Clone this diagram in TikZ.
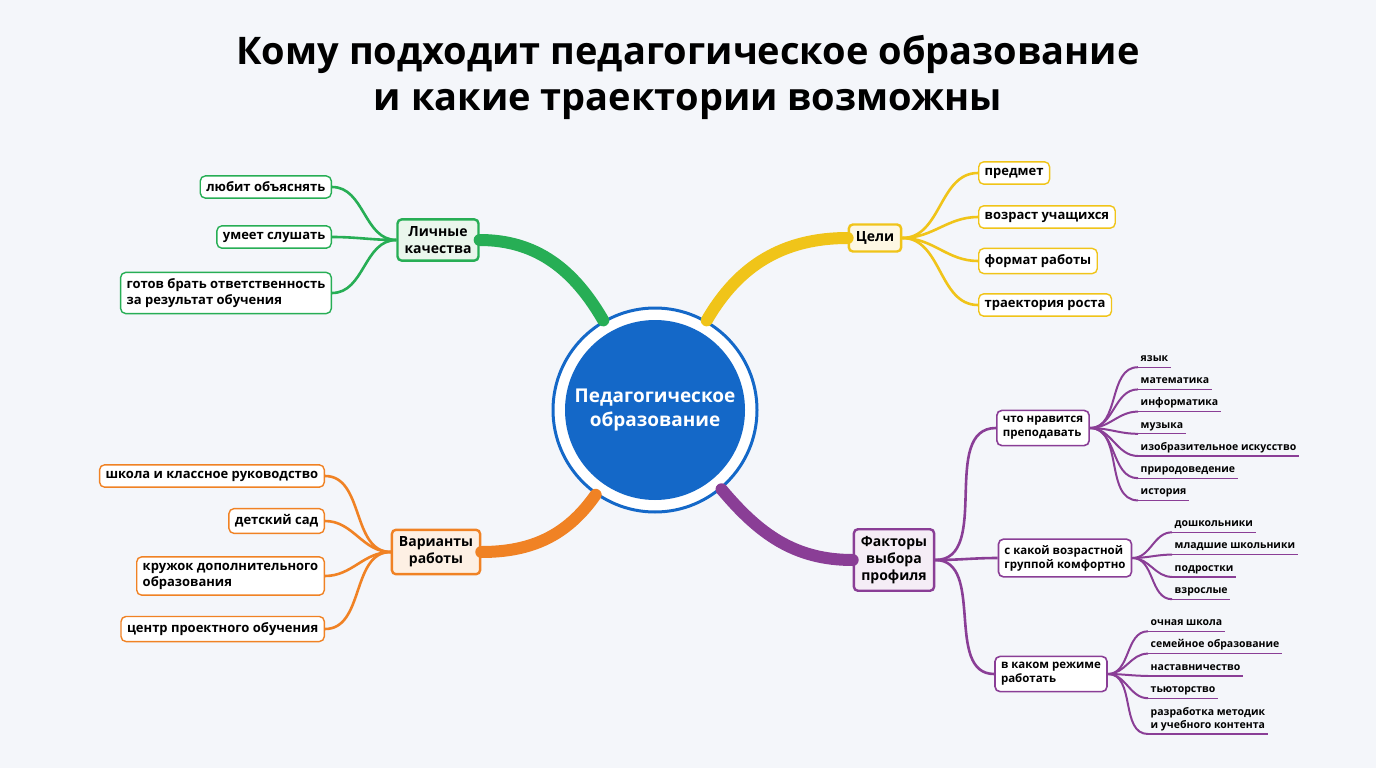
\documentclass[tikz,border=0pt]{standalone}
\usepackage{fontspec}
\setmainfont{Open Sans}
\usetikzlibrary{positioning,calc}
\definecolor{bgc}{HTML}{F4F6FA}
\definecolor{grn}{HTML}{27AE55}
\definecolor{grnl}{HTML}{EAF6EC}
\definecolor{ylw}{HTML}{F0C419}
\definecolor{ylwl}{HTML}{FDF7E3}
\definecolor{org}{HTML}{F08224}
\definecolor{orgl}{HTML}{FDF0E4}
\definecolor{prp}{HTML}{8A3E96}
\definecolor{prpl}{HTML}{F5EDF6}
\definecolor{blu}{HTML}{1468C8}
\begin{document}
\begin{tikzpicture}[x=1pt,y=-1pt,
    hub/.style={rectangle, rounded corners=4pt, line width=2.4pt, align=center, font=\fontsize{14}{17}\selectfont\bfseries, inner sep=7pt},
    leafbox/.style={rectangle, rounded corners=5pt, line width=1.4pt, fill=white, align=left, font=\fontsize{13}{16}\selectfont\bfseries, inner sep=6pt},
    subbox/.style={rectangle, rounded corners=5pt, line width=1.6pt, draw=prp, fill=white, align=left, font=\fontsize{11.5}{14}\selectfont\bfseries, inner sep=6pt},
    twig/.style={anchor=south west, inner sep=2.5pt, font=\fontsize{10.5}{12.5}\selectfont\bfseries, align=left, text depth=3pt},
    branch/.style={line width=12pt, line cap=round},
    link/.style={line width=2.6pt}
  ]
  \fill[bgc] (0,0) rectangle (1376,768);
  \node[font=\fontsize{38}{46}\selectfont\bfseries, align=center] (title) at (688,77)
    {Кому подходит педагогическое образование\\и какие траектории возможны};

  % centre
  \node[circle, draw=blu, line width=3pt, fill=white, minimum size=204pt] (core) at (655,410) {};
  \node[circle, fill=blu, minimum size=180pt, text=white, align=center,
        font=\fontsize{19}{24}\selectfont\bfseries] (coretxt) at (core) {Педагогическое\\образование};

  % green
  \node[hub, draw=grn, fill=grnl] (lichn) at (438,240) {Личные\\качества};
  \node[leafbox, draw=grn, anchor=east] (g1) at (332,187) {любит объяснять};
  \node[leafbox, draw=grn, anchor=east] (g2) at (332,237) {умеет слушать};
  \node[leafbox, draw=grn, anchor=east] (g3) at (332,293) {готов брать ответственность\\за результат обучения};
  \draw[branch, grn] (core.120) to[out=120,in=0] (lichn.east);
  \foreach \n in {g1,g2,g3}
    \draw[link, grn] (\n.east) to[out=0,in=180] (lichn.west);

  % yellow
  \node[hub, draw=ylw, fill=ylwl] (celi) at (875,238) {Цели};
  \node[leafbox, draw=ylw, anchor=west] (y1) at (978,173) {предмет};
  \node[leafbox, draw=ylw, anchor=west] (y2) at (978,217) {возраст учащихся};
  \node[leafbox, draw=ylw, anchor=west] (y3) at (978,261) {формат работы};
  \node[leafbox, draw=ylw, anchor=west] (y4) at (978,305) {траектория роста};
  \draw[branch, ylw] (core.60) to[out=60,in=180] (celi.west);
  \foreach \n in {y1,y2,y3,y4}
    \draw[link, ylw] (celi.east) to[out=0,in=180] (\n.west);

  % orange
  \node[hub, draw=org, fill=orgl] (varia) at (436,552) {Варианты\\работы};
  \node[leafbox, draw=org, anchor=east] (o1) at (325,476) {школа и классное руководство};
  \node[leafbox, draw=org, anchor=east] (o2) at (325,521) {детский сад};
  \node[leafbox, draw=org, anchor=east] (o3) at (325,576) {кружок дополнительного\\образования};
  \node[leafbox, draw=org, anchor=east] (o4) at (325,629) {центр проектного обучения};
  \draw[branch, org] (core.235) to[out=235,in=0] (varia.east);
  \foreach \n in {o1,o2,o3,o4}
    \draw[link, org] (\n.east) to[out=0,in=180] (varia.west);

  % purple
  \node[hub, draw=prp, fill=prpl] (faktor) at (894,560) {Факторы\\выбора\\профиля};
  \draw[branch, prp] (core.-50) to[out=-50,in=180] (faktor.west);
  \node[subbox] (s1) at (1043,428) {что нравится\\преподавать};
  \node[subbox] (s2) at (1065,558) {с какой возрастной\\группой комфортно};
  \node[subbox] (s3) at (1051,674) {в каком режиме\\работать};
  \foreach \n in {s1,s2,s3}
    \draw[link, prp] (faktor.east) to[out=0,in=180] (\n.west);

  \foreach \t [count=\i] in {язык,математика,информатика,музыка,изобразительное искусство,природоведение,история} {
    \node[twig] (a\i) at (1138,{345+22.2*\i}) {\t};
    \draw[prp, line width=1.3pt] (a\i.south west) -- (a\i.south east);
    \draw[prp, line width=2pt] (s1.east) to[out=0,in=180] (a\i.south west);
  }
  \foreach \t [count=\i] in {дошкольники,младшие школьники,подростки,взрослые} {
    \node[twig] (b\i) at (1172,{510+22.3*\i}) {\t};
    \draw[prp, line width=1.3pt] (b\i.south west) -- (b\i.south east);
    \draw[prp, line width=2pt] (s2.east) to[out=0,in=180] (b\i.south west);
  }
  \foreach \t [count=\i] in {очная школа,семейное образование,наставничество,тьюторство} {
    \node[twig] (c\i) at (1148,{609+22.3*\i}) {\t};
    \draw[prp, line width=1.3pt] (c\i.south west) -- (c\i.south east);
    \draw[prp, line width=2pt] (s3.east) to[out=0,in=180] (c\i.south west);
  }
  \node[twig] (c5) at (1148,734) {разработка методик\\и учебного контента};
  \draw[prp, line width=1.3pt] (c5.south west) -- (c5.south east);
  \draw[prp, line width=2pt] (s3.east) to[out=0,in=180] (c5.south west);
\end{tikzpicture}
\end{document}
